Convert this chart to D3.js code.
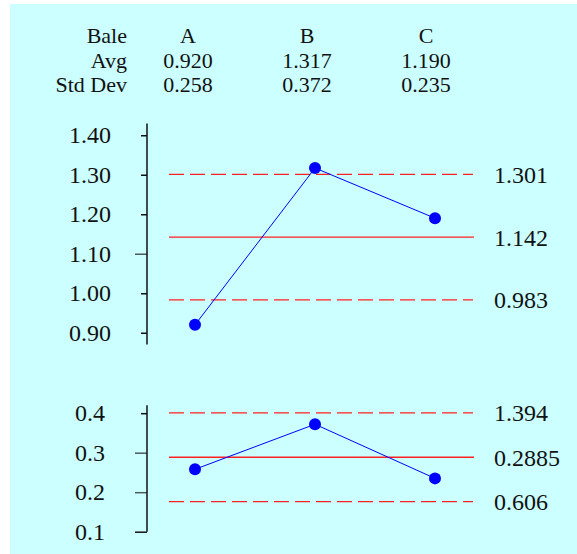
<!DOCTYPE html>
<html>
<head>
<meta charset="utf-8">
<script src="https://cdn.jsdelivr.net/npm/d3@7"></script>
<style>
  body { margin: 0; background: #fff; }
  text { font-family: "Liberation Serif", "Times New Roman", serif; fill: #111; }
</style>
</head>
<body>
<div id="chart"></div>
<script>
var bales = ["A", "B", "C"];
var avgValues = [0.920, 1.317, 1.190];
var sdValues = [0.258, 0.372, 0.235];

var avgTicks = [0.90, 1.00, 1.10, 1.20, 1.30, 1.40];
var avgLongTicks = [1.10];
var avgCenter = 1.142;
var avgLimits = [1.301, 0.983];
var avgLimitLabels = ["1.301", "0.983"];

var sdTicks = [0.1, 0.2, 0.3, 0.4];
var sdLongTicks = [0.1, 0.2, 0.3];
var sdCenter = 0.2885;
var sdLimits = [0.401, 0.176];
var sdLimitLabels = ["1.394", "0.606"];

var W = 577, H = 554;
var svg = d3.select("#chart").append("svg").attr("width", W).attr("height", H);

svg.append("rect").attr("x", 10).attr("y", 4).attr("width", W - 10).attr("height", H - 4)
   .style("fill", "#ccffff");

// header table
var cols = d3.scalePoint().domain(bales).range([188, 426]);
var rows = [
  { label: "Bale", vals: bales },
  { label: "Avg", vals: avgValues.map(function(d) { return d.toFixed(3); }) },
  { label: "Std Dev", vals: sdValues.map(function(d) { return d.toFixed(3); }) }
];
var fs = 24, hfs = 22;
rows.forEach(function(r, i) {
  var y = 43 + i * 24.5;
  svg.append("text").attr("x", 127).attr("y", y).style("text-anchor", "end")
     .style("font-size", hfs + "px").text(r.label);
  r.vals.forEach(function(v, j) {
    svg.append("text").attr("x", cols(bales[j])).attr("y", y).style("text-anchor", "middle")
       .style("font-size", hfs + "px").text(v);
  });
});

var x = d3.scalePoint().domain(bales).range([195, 435]);

function panel(o) {
  var y = d3.scaleLinear().domain(o.domain).range(o.range);
  var g = svg.append("g");

  var axis = d3.axisLeft(y).tickValues(o.ticks).tickFormat(d3.format(o.fmt))
    .tickSizeInner(6).tickSizeOuter(0).tickPadding(o.pad);
  var ag = g.append("g").attr("transform", "translate(147,0)").call(axis);
  ag.select(".domain").remove();
  ag.append("line").attr("x1", 0).attr("x2", 0)
    .attr("y1", y(o.domain[0])).attr("y2", y(o.domain[1]))
    .style("stroke", "#111").style("stroke-width", 1.5);
  ag.selectAll(".tick line").style("stroke-width", 1.5)
    .attr("x2", function(d) { return o.longTicks.indexOf(d) >= 0 ? -12 : -6; })
    .style("stroke", function(d) { return o.longTicks.indexOf(d) >= 0 && d !== o.domain[0] ? "#4a5a5a" : "#111"; });
  ag.selectAll(".tick text").style("font-size", fs + "px").style("font-family", "Liberation Serif, serif")
    .attr("fill", "#111");

  // limit lines
  g.selectAll(".lim").data(o.limits).enter().append("line")
    .attr("x1", 169).attr("x2", 473)
    .attr("y1", function(d) { return y(d); }).attr("y2", function(d) { return y(d); })
    .style("stroke", "#ff2020").style("stroke-width", 1.3).style("stroke-dasharray", "15,6");
  g.append("line").attr("x1", 169).attr("x2", 474)
    .attr("y1", y(o.center)).attr("y2", y(o.center))
    .style("stroke", "#ff2020").style("stroke-width", 1.3);

  // right labels
  var labs = [{ v: o.limits[0], t: o.limitLabels[0] }, { v: o.center, t: String(o.center) },
              { v: o.limits[1], t: o.limitLabels[1] }];
  g.selectAll(".rl").data(labs).enter().append("text")
    .attr("x", 494).attr("y", function(d) { return y(d.v); }).attr("dy", "0.35em")
    .style("font-size", fs + "px").text(function(d) { return d.t; });

  // series
  var line = d3.line().x(function(d, i) { return x(bales[i]); }).y(function(d) { return y(d); });
  g.append("path").datum(o.values).attr("d", line)
    .style("fill", "none").style("stroke", "#0000ff").style("stroke-width", 1);
  g.selectAll(".pt").data(o.values).enter().append("circle")
    .attr("cx", function(d, i) { return x(bales[i]); }).attr("cy", function(d) { return y(d); })
    .attr("r", 6).style("fill", "#0000ff");
}

panel({ domain: [0.87, 1.43], range: [344.6, 123.4], ticks: avgTicks, longTicks: avgLongTicks,
        fmt: ".2f", pad: 30, values: avgValues, center: avgCenter, limits: avgLimits,
        limitLabels: avgLimitLabels });
panel({ domain: [0.1, 0.42], range: [531.7, 405.3], ticks: sdTicks, longTicks: sdLongTicks,
        fmt: ".1f", pad: 36, values: sdValues, center: sdCenter, limits: sdLimits,
        limitLabels: sdLimitLabels });
</script>
</body>
</html>
